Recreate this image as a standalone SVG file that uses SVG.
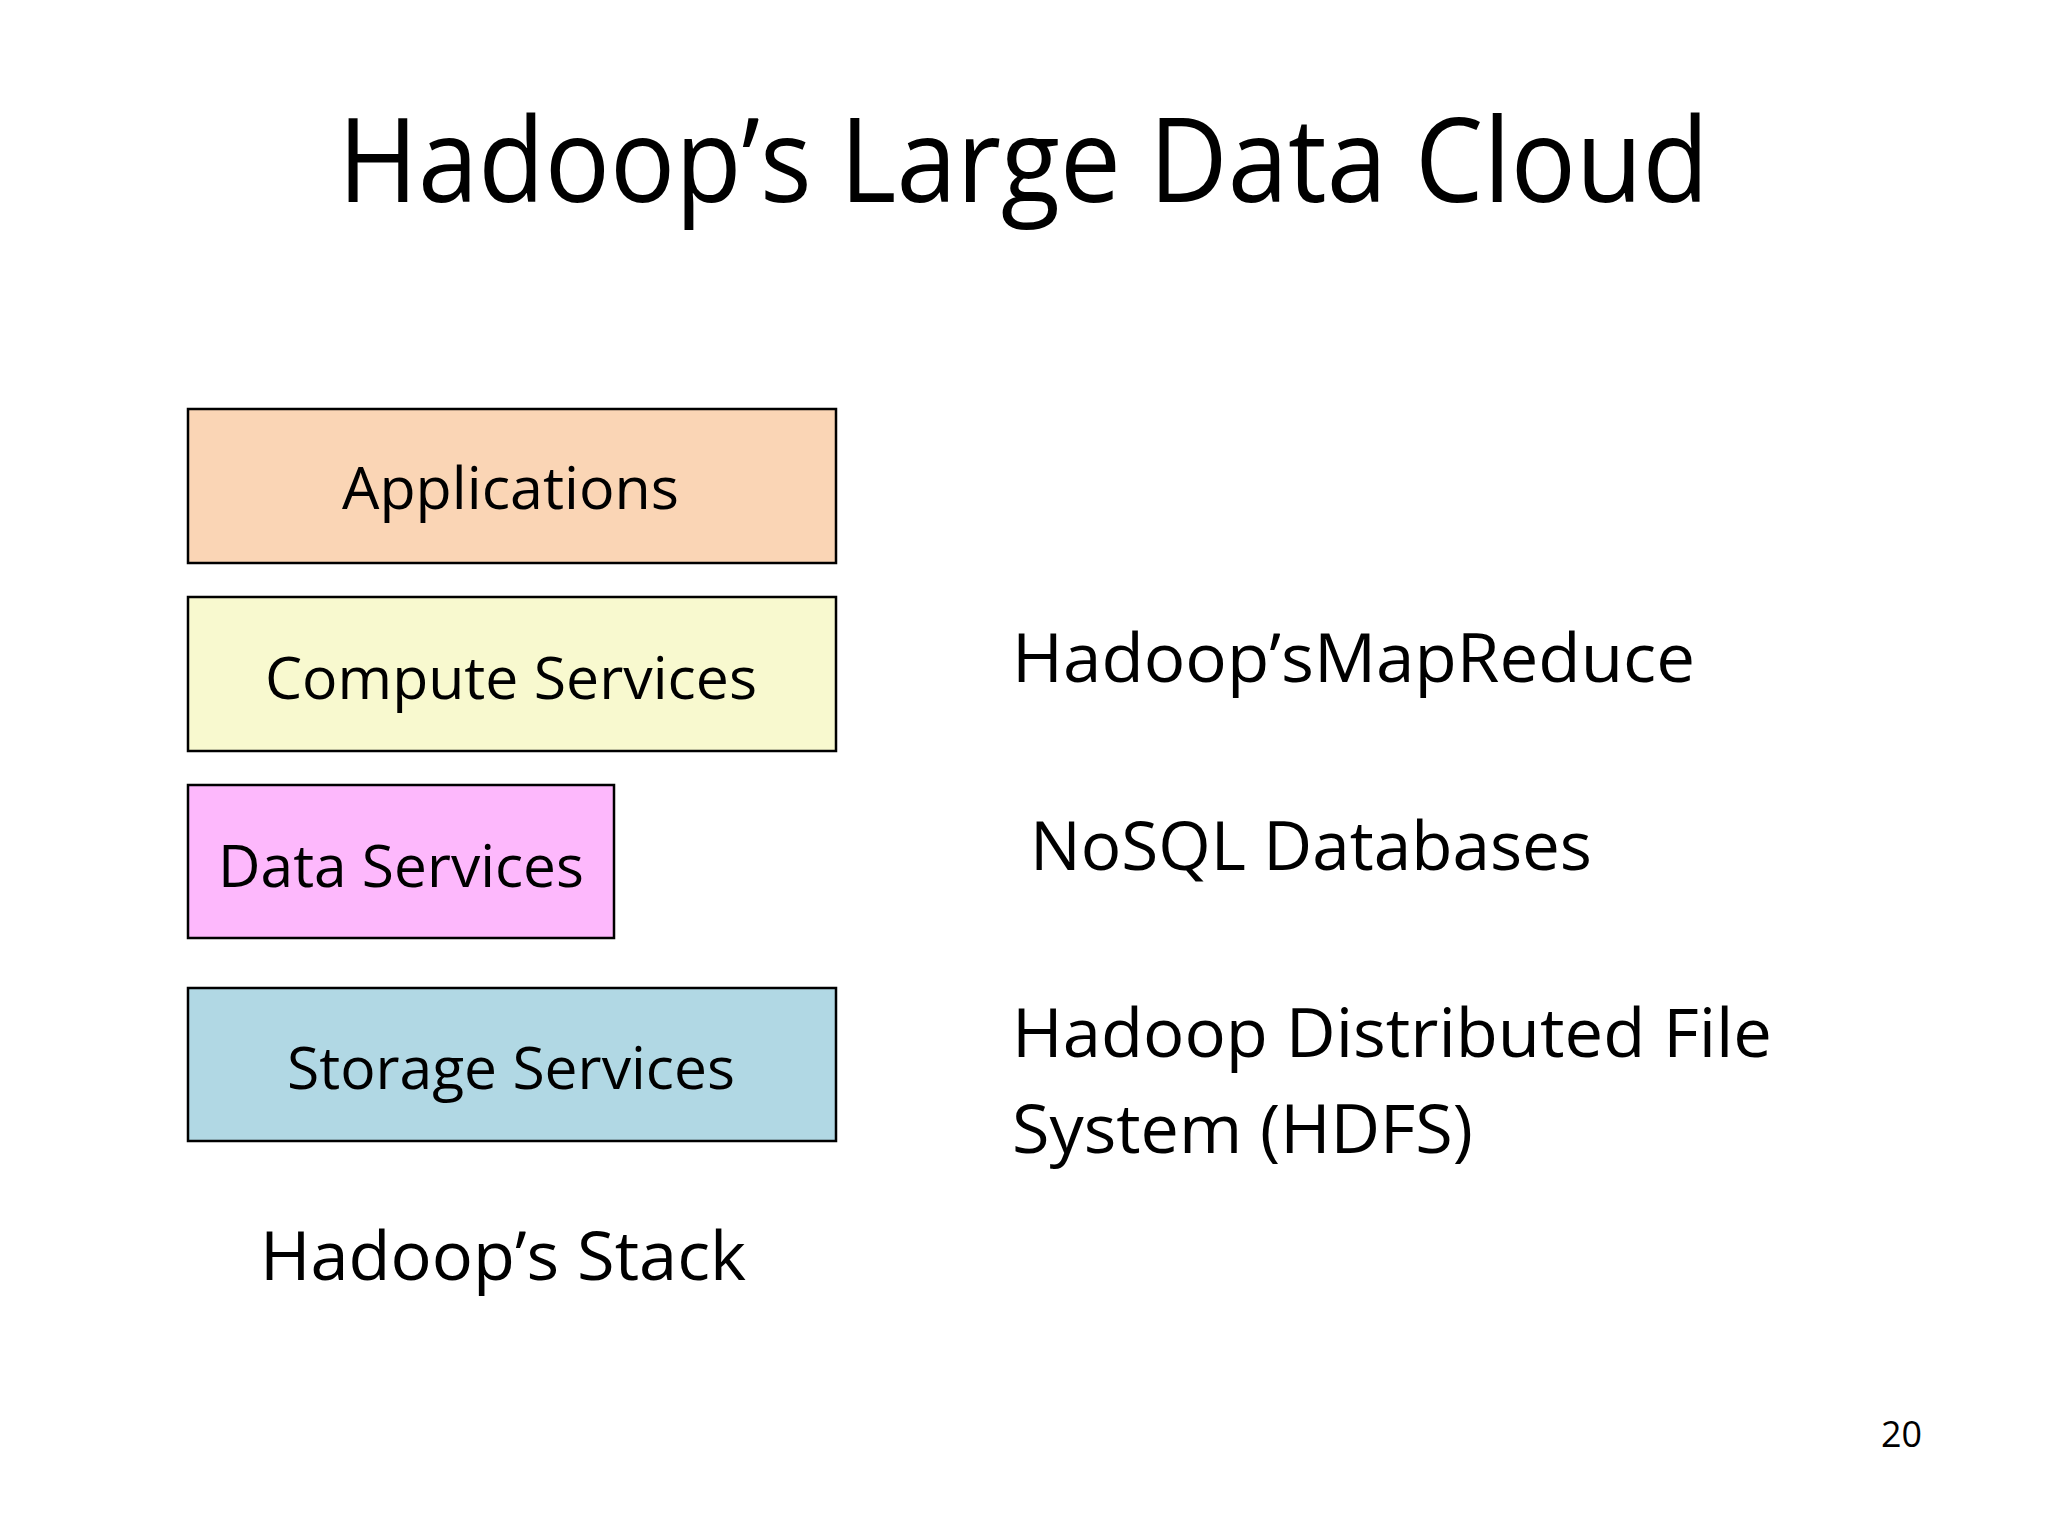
<svg xmlns="http://www.w3.org/2000/svg" width="2048" height="1536" viewBox="0 0 2048 1536">
<style>
.t{font-family:"Open Sans","Noto Sans",sans-serif;fill:#000}
.b{stroke:#000;stroke-width:2.5}
</style>
<rect width="2048" height="1536" fill="#fff"/>
<text class="t" x="338" y="202" font-size="118" textLength="1371" lengthAdjust="spacingAndGlyphs">Hadoop’s Large Data Cloud</text>
<g id="applications"><rect class="b" x="188" y="409" width="648" height="154" fill="#FAD5B5"/><text class="t" x="342" y="509" font-size="58" textLength="337" lengthAdjust="spacingAndGlyphs">Applications</text></g>
<g id="compute"><rect class="b" x="188" y="597" width="648" height="154" fill="#F8F9CF"/><text class="t" x="265" y="699" font-size="58" textLength="492" lengthAdjust="spacingAndGlyphs">Compute Services</text></g>
<g id="data"><rect class="b" x="188" y="785" width="426" height="153" fill="#FDB8FC"/><text class="t" x="218" y="887" font-size="58" textLength="366" lengthAdjust="spacingAndGlyphs">Data Services</text></g>
<g id="storage"><rect class="b" x="188" y="988" width="648" height="153" fill="#B1D8E4"/><text class="t" x="287" y="1089" font-size="58" textLength="448" lengthAdjust="spacingAndGlyphs">Storage Services</text></g>
<g id="labels">
<text class="t" x="260" y="1280" font-size="68" textLength="486" lengthAdjust="spacingAndGlyphs">Hadoop’s Stack</text>
<text class="t" x="1012" y="682" font-size="68" textLength="683" lengthAdjust="spacingAndGlyphs">Hadoop’sMapReduce</text>
<text class="t" x="1030" y="870" font-size="68" textLength="562" lengthAdjust="spacingAndGlyphs">NoSQL Databases</text>
<text class="t" x="1012" y="1057" font-size="68" textLength="760" lengthAdjust="spacingAndGlyphs">Hadoop Distributed File</text>
<text class="t" x="1012" y="1153" font-size="68" textLength="461" lengthAdjust="spacingAndGlyphs">System (HDFS)</text>
<text class="t" x="1881" y="1447" font-size="36" textLength="41" lengthAdjust="spacingAndGlyphs">20</text>
</g>
<g id="connectors"/>
</svg>
